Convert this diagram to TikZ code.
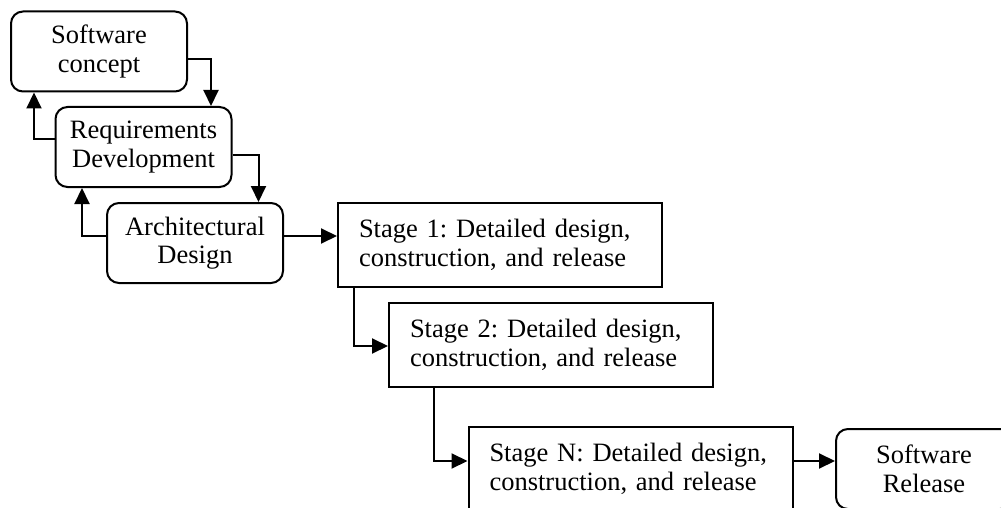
\documentclass[tikz,border=0pt]{standalone}
\usepackage{fontspec}
\setmainfont{Liberation Serif}
\usetikzlibrary{arrows.meta}
\frenchspacing
\begin{document}
\begin{tikzpicture}[x=1pt,y=-1pt,
  every node/.style={font=\fontsize{26.5pt}{28.5pt}\selectfont},
  phase/.style={draw, line width=2pt, rounded corners=12pt,
    minimum width=176pt, minimum height=80pt, align=center, inner sep=0pt},
  stage/.style={draw, line width=2pt, minimum width=324pt, minimum height=84pt,
    text width=282pt, inner xsep=21pt, inner ysep=0pt, align=left},
  link/.style={line width=2pt, -{Triangle[length=16pt,width=15pt]}}]
\useasboundingbox (0,0) rectangle (1001,508);
\clip (0,0) rectangle (1001,508);

% waterfall front end
\node[phase] (concept) at (99,51.5) {Software\\concept};
\node[phase] (req) at (143.5,147) {Requirements\\Development};
\node[phase] (arch) at (195,243) {Architectural\\Design};

% staged delivery
\node[stage] (s1) at (500,245) {Stage 1: Detailed design,\\construction, and release};
\node[stage] (s2) at (551,345) {Stage 2: Detailed design,\\construction, and release};
\node[stage] (sn) at (630.5,469) {Stage N: Detailed design,\\construction, and release};
\node[phase] (rel) at (924,469) {Software\\Release};

% forward flow
\draw[link] ([yshift=-7.5pt]concept.east) -| ([xshift=67.5pt]req.north);
\draw[link] ([yshift=-8pt]req.east) -| ([xshift=63.5pt]arch.north);
\draw[link] ([yshift=7pt]arch.east) -- ([yshift=9pt]s1.west);
\draw[link] ([xshift=-146pt]s1.south) |- ([yshift=-1pt]s2.west);
\draw[link] ([xshift=-117pt]s2.south) |- ([yshift=8pt]sn.west);
\draw[link] ([yshift=8pt]sn.east) -- ([yshift=8pt]rel.west);

% feedback to earlier phases
\draw[link] ([yshift=8pt]req.west) -| ([xshift=-65pt]concept.south);
\draw[link] ([yshift=7pt]arch.west) -| ([xshift=-61.5pt]req.south);
\end{tikzpicture}
\end{document}
